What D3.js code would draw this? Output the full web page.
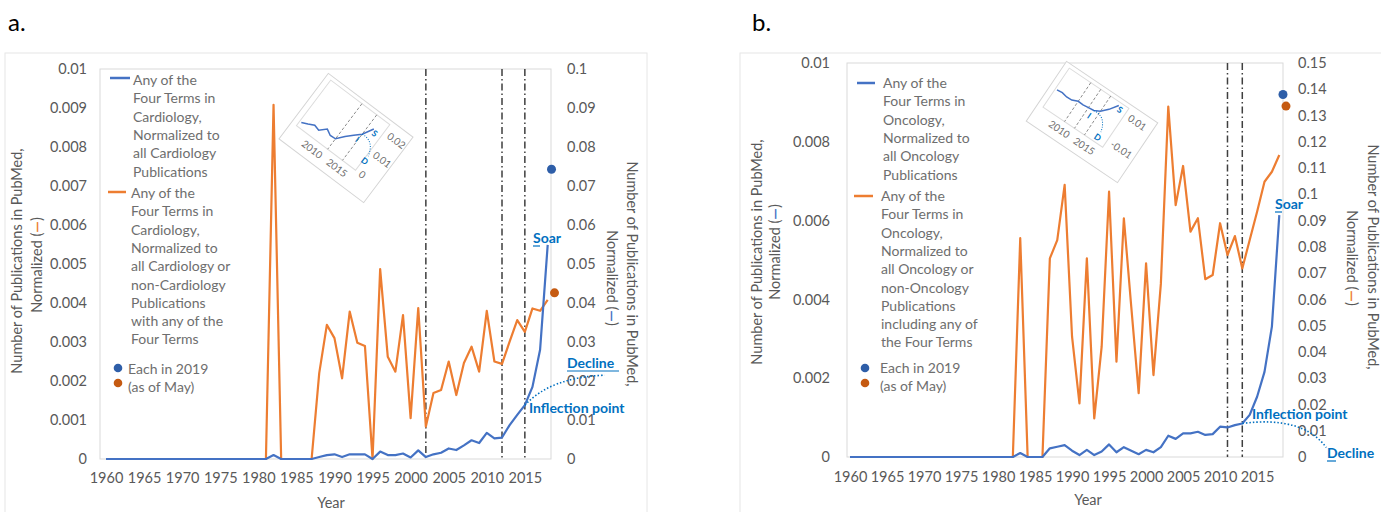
<!DOCTYPE html>
<html>
<head>
<meta charset="utf-8">
<script src="https://cdn.jsdelivr.net/npm/d3@7"></script>
<style>
  body { margin: 0; background: #fff; }
  svg { font-family: Lato, "Open Sans", sans-serif; }
</style>
</head>
<body>
<svg id="chart" width="1381" height="512"></svg>
<script>
// categories
const years = d3.range(1960, 2019);
const xTicks = [1960, 1965, 1970, 1975, 1980, 1985, 1990, 1995, 2000, 2005, 2010, 2015];

// a. cardiology
const cardioBlue = [0,0,0,0,0,0,0,0,0,0, 0,0,0,0,0,0,0,0,0,0, 0,0,
  0.001, 0,0,0,0,0,
  0.0005, 0.001, 0.0012, 0.0005, 0.0012, 0.0012, 0.0012, 0, 0.0019, 0.001,
  0.001, 0.0014, 0.0004, 0.0022, 0.0005, 0.0012, 0.0016, 0.0027, 0.0023, 0.0035,
  0.0048, 0.0041, 0.0067, 0.0053, 0.0055, 0.0087, 0.0113, 0.0138, 0.0185, 0.028, 0.0549];
const cardioOrange = [0,0,0,0,0,0,0,0,0,0, 0,0,0,0,0,0,0,0,0,0, 0,0,
  0.00908, 0,0,0,0,0,
  0.0022, 0.00344, 0.0031, 0.00207, 0.00378, 0.00298, 0.0029, 0, 0.00487, 0.00262,
  0.00224, 0.00369, 0.00105, 0.00387, 0.00083, 0.00169, 0.00177, 0.0025, 0.00164, 0.00246,
  0.00288, 0.00224, 0.0038, 0.0025, 0.00244, 0.00301, 0.00356, 0.00326, 0.00386, 0.0038, 0.00408];
const cardioDots = { blue: 0.0743, orange: 0.00426 };
const cardioMarks = [2002, 2012, 2015];
const cardioLeftTicks = [0, 0.001, 0.002, 0.003, 0.004, 0.005, 0.006, 0.007, 0.008, 0.009, 0.01];
const cardioRightTicks = [0, 0.01, 0.02, 0.03, 0.04, 0.05, 0.06, 0.07, 0.08, 0.09, 0.1];

// b. oncology
const oncoBlue = [0,0,0,0,0,0,0,0,0,0, 0,0,0,0,0,0,0,0,0,0, 0,0,0,
  0.0001, 0,0,0,
  0.00022, 0.00026, 0.0003, 0.00016, 0.00005, 0.00018, 0.00005, 0.00014, 0.00032, 0.00012,
  0.00025, 0.00016, 0.00007, 0.00018, 0.00012, 0.00025, 0.00054, 0.00046, 0.0006, 0.0006,
  0.00064, 0.00056, 0.00058, 0.00077, 0.00075, 0.00081, 0.00085, 0.00107, 0.00153, 0.00216,
  0.00331, 0.00614];
const oncoOrange = [0,0,0,0,0,0,0,0,0,0, 0,0,0,0,0,0,0,0,0,0, 0,0,0,
  0.0833, 0,0,0,
  0.0756, 0.0826, 0.1036, 0.0458, 0.0204, 0.0756, 0.0147, 0.042, 0.101, 0.0363,
  0.0909, 0.0572, 0.0243, 0.0737, 0.0312, 0.066, 0.1334, 0.0959, 0.1108, 0.0858,
  0.0909, 0.0677, 0.0693, 0.089, 0.0769, 0.0841, 0.0718, 0.0826, 0.0934, 0.1048,
  0.1086, 0.115];
const oncoDots = { blue: 0.0092, orange: 0.1336 };
const oncoMarks = [2011, 2013];
const oncoLeftTicks = [0, 0.002, 0.004, 0.006, 0.008, 0.01];
const oncoRightTicks = [0, 0.01, 0.02, 0.03, 0.04, 0.05, 0.06, 0.07, 0.08, 0.09, 0.1, 0.11, 0.12, 0.13, 0.14, 0.15];

const DOT_YEAR = 2018.5;

const BLUE = "#4472c4", ORANGE = "#ed7d31", NOTE = "#0070c0";
const TICK = "#595959", LEG = "#6e6e6e";

const svg = d3.select("#chart");
const fmt = d => d === 0 ? "0" : String(+d.toFixed(3));

function drawPanel(p) {
  const g = svg.append("g");

  g.append("rect").attr("x", p.frame[0]).attr("y", p.frame[1])
    .attr("width", p.frame[2]).attr("height", p.frame[3])
    .attr("fill", "none").attr("stroke", "#e6e6e6");
  g.append("text").attr("x", p.tag[0]).attr("y", p.tag[1])
    .attr("font-size", 24).attr("fill", "#000").text(p.tagText);

  const x = d3.scaleLinear().domain([1960, 2018]).range(p.xRange);
  const yL = d3.scaleLinear().domain([0, p.leftTicks[p.leftTicks.length - 1]]).range([p.bottom, p.top]);
  const yR = d3.scaleLinear().domain([0, p.rightTicks[p.rightTicks.length - 1]]).range([p.bottom, p.top]);

  g.append("rect").attr("x", p.plot[0]).attr("y", p.top)
    .attr("width", p.plot[1] - p.plot[0]).attr("height", p.bottom - p.top)
    .attr("fill", "none").attr("stroke", "#d9d9d9");

  // axes
  const ax = (sel) => { sel.select(".domain").remove();
    sel.selectAll("text").attr("font-size", 14.5).attr("fill", TICK).attr("font-family", "Lato"); };
  g.append("g").attr("transform", `translate(${p.leftLabelX},0)`)
    .call(d3.axisLeft(yL).tickValues(p.leftTicks).tickSize(0).tickPadding(0).tickFormat(fmt)).call(ax);
  g.append("g").attr("transform", `translate(${p.rightLabelX},0)`)
    .call(d3.axisRight(yR).tickValues(p.rightTicks).tickSize(0).tickPadding(0).tickFormat(fmt)).call(ax);
  g.append("g").attr("transform", `translate(0,${p.xLabelY})`)
    .call(d3.axisBottom(x).tickValues(xTicks).tickSize(0).tickPadding(0).tickFormat(d3.format("d"))).call(ax);

  // axis titles
  p.titles.forEach(tt => {
    const t = g.append("text").attr("transform", `translate(${tt.x},${tt.y}) rotate(${tt.rot})`)
      .attr("text-anchor", "middle").attr("font-size", 14.5).attr("fill", TICK);
    if (tt.dash) {
      t.append("tspan").text("Normalized (");
      t.append("tspan").attr("fill", tt.dash).attr("font-weight", "bold").text("—");
      t.append("tspan").text(")");
    } else t.text(tt.text);
  });
  g.append("text").attr("x", p.yearPos[0]).attr("y", p.yearPos[1]).attr("text-anchor", "middle")
    .attr("font-size", 14.5).attr("fill", TICK).text("Year");

  // marker lines
  g.selectAll(".mark").data(p.marks).join("line")
    .attr("x1", d => x(d)).attr("x2", d => x(d)).attr("y1", p.top).attr("y2", p.bottom)
    .attr("stroke", "#3f3f3f").attr("stroke-width", 1.5).attr("stroke-dasharray", "7,3,1.5,3");

  // series
  const orangeScale = p.orangeAxis === "left" ? yL : yR;
  const blueScale = p.blueAxis === "left" ? yL : yR;
  const line = (sc) => d3.line().x((d, i) => x(years[i])).y(d => sc(d));
  g.append("path").datum(p.orange).attr("d", line(orangeScale))
    .attr("fill", "none").attr("stroke", ORANGE).attr("stroke-width", 2.2).attr("stroke-linejoin", "round");
  g.append("path").datum(p.blue).attr("d", line(blueScale))
    .attr("fill", "none").attr("stroke", BLUE).attr("stroke-width", 2.2).attr("stroke-linejoin", "round");

  g.append("circle").attr("cx", x(DOT_YEAR)).attr("cy", blueScale(p.dots.blue)).attr("r", 4.5).attr("fill", "#2e5ea8");
  g.append("circle").attr("cx", x(DOT_YEAR) + 3).attr("cy", orangeScale(p.dots.orange)).attr("r", 4.5).attr("fill", "#c55a11");

  // annotations
  const infl = [x(p.inflYear), blueScale(p.blue[years.indexOf(p.inflYear)])];
  g.append("path")
    .attr("d", `M${infl[0]},${infl[1]} Q${infl[0] + p.curve[0]},${infl[1] + p.curve[1]} ${infl[0] + p.curve[2]},${infl[1] + p.curve[3]}`)
    .attr("fill", "none").attr("stroke", NOTE).attr("stroke-width", 1.6).attr("stroke-dasharray", "1.5,2");
  p.notes.forEach(n => {
    g.append("text").attr("x", n.x).attr("y", n.y).attr("font-size", 14).attr("font-weight", "bold")
      .attr("fill", NOTE).text(n.text);
    if (n.ul) g.append("line").attr("x1", n.x).attr("x2", n.x + n.ul).attr("y1", n.y + 3).attr("y2", n.y + 3)
      .attr("stroke", NOTE).attr("stroke-width", 1.2);
  });

  // legend
  const lg = g.append("g").attr("font-size", 14).attr("fill", LEG);
  p.legend.forEach(item => {
    if (item.line) lg.append("line").attr("x1", item.line[0]).attr("x2", item.line[1])
      .attr("y1", item.line[2]).attr("y2", item.line[2]).attr("stroke", item.color).attr("stroke-width", 2.5);
    item.rows.forEach((r, i) => lg.append("text").attr("x", item.x).attr("y", item.y + i * 18.3).text(r));
  });
  p.legendDots.forEach(d => lg.append("circle").attr("cx", d[0]).attr("cy", d[1]).attr("r", 4.3).attr("fill", d[2]));

  // rotated inset
  drawInset(p.inset, p.blue);
}

function drawInset(s, blue) {
  const g = svg.append("g").attr("transform", `translate(${s.cx},${s.cy}) rotate(${s.angle})`);
  const w = s.w, h = s.h;
  g.append("rect").attr("x", -w / 2).attr("y", -h / 2).attr("width", w).attr("height", h)
    .attr("fill", "#fff").attr("stroke", "#d4d4d4");
  const px0 = -w / 2 + 6, px1 = w / 2 - s.rightPad, py0 = -h / 2 + 4, py1 = h / 2 - 21;
  g.append("rect").attr("x", px0).attr("y", py0).attr("width", px1 - px0).attr("height", py1 - py0)
    .attr("fill", "none").attr("stroke", "#dcdcdc");
  const xi = d3.scaleLinear().domain(s.years).range([px0 + 2, px1 - 4]);
  const yi = d3.scaleLinear().domain(s.valDomain).range([py1, py0]);
  const sub = years.map((yr, i) => [yr, blue[i]]).filter(d => d[0] >= s.years[0] && d[0] <= s.lastYear);
  g.selectAll(".im").data(s.marks).join("line")
    .attr("x1", d => xi(d)).attr("x2", d => xi(d)).attr("y1", py0).attr("y2", py1)
    .attr("stroke", "#8c8c8c").attr("stroke-width", 0.9).attr("stroke-dasharray", "3,2");
  g.append("path").datum(sub).attr("d", d3.line().x(d => xi(d[0])).y(d => yi(d[1])))
    .attr("fill", "none").attr("stroke", BLUE).attr("stroke-width", 1.5);
  const ip = sub.find(d => d[0] === s.inflYear);
  g.append("path")
    .attr("d", `M${xi(ip[0])},${yi(ip[1])} Q${xi(ip[0]) + 14},${yi(ip[1]) - 2} ${xi(ip[0]) + 18},${yi(ip[1]) + 14}`)
    .attr("fill", "none").attr("stroke", NOTE).attr("stroke-width", 1).attr("stroke-dasharray", "1,1.5");
  const last = sub[sub.length - 1];
  const lt = g.append("g").attr("font-size", 8.5).attr("font-weight", "bold").attr("fill", NOTE);
  lt.append("text").attr("x", xi(last[0]) + 1).attr("y", yi(last[1]) + 6).text("S");
  lt.append("text").attr("x", xi(ip[0]) - 2).attr("y", yi(ip[1]) + 10).text("I");
  lt.append("text").attr("x", xi(ip[0]) + 15).attr("y", yi(ip[1]) + 23).text("D");
  const tg = g.append("g").attr("font-size", 10).attr("fill", "#6e6e6e");
  s.xLabels.forEach(v => tg.append("text").attr("x", xi(v)).attr("y", py1 + 13).attr("text-anchor", "middle").text(v));
  const yt = d3.scaleLinear().domain(s.tickDomain).range([py1, py0]);
  s.yLabels.forEach(v => tg.append("text").attr("x", px1 + 5).attr("y", yt(v) + 3).text(v));
}

drawPanel({
  frame: [5, 53, 642, 480], tag: [8, 31], tagText: "a.",
  xRange: [106, 547.7], top: 69, bottom: 459, plot: [100, 551],
  leftTicks: cardioLeftTicks, rightTicks: cardioRightTicks,
  leftLabelX: 87, rightLabelX: 567, xLabelY: 473,
  orange: cardioOrange, blue: cardioBlue, orangeAxis: "left", blueAxis: "right",
  dots: cardioDots, marks: cardioMarks,
  titles: [
    { x: 22, y: 261, rot: -90, text: "Number of Publications in PubMed," },
    { x: 42, y: 265, rot: -90, dash: ORANGE },
    { x: 627, y: 274, rot: 90, text: "Number of Publications in PubMed," },
    { x: 607, y: 278, rot: 90, dash: BLUE }
  ],
  yearPos: [331, 508],
  inflYear: 2015, curve: [26, -28, 80, -30],
  notes: [
    { text: "Soar", x: 533, y: 243, ul: 7 },
    { text: "Decline", x: 567, y: 368, ul: 52 },
    { text: "Inflection point", x: 529, y: 413 }
  ],
  legend: [
    { color: BLUE, line: [110, 130, 78], x: 133, y: 85,
      rows: ["Any of the", "Four Terms in", "Cardiology,", "Normalized to", "all Cardiology", "Publications"] },
    { color: ORANGE, line: [108, 126, 192], x: 131, y: 198,
      rows: ["Any of the", "Four Terms in", "Cardiology,", "Normalized to", "all Cardiology or",
             "non-Cardiology", "Publications", "with any of the", "Four Terms"] },
    { x: 128, y: 374, rows: ["Each in 2019", "(as of May)"] }
  ],
  legendDots: [[118, 368, "#2e5ea8"], [118, 383, "#c55a11"]],
  inset: { cx: 346, cy: 138, angle: 37, w: 106, h: 82, rightPad: 26,
    years: [2006, 2017], lastYear: 2016, valDomain: [0, 0.024], inflYear: 2015,
    marks: [2012, 2015], xLabels: [2010, 2015], tickDomain: [0, 0.024], yLabels: [0, 0.01, 0.02] }
});

drawPanel({
  frame: [740, 53, 660, 480], tag: [752, 31], tagText: "b.",
  xRange: [850, 1279.3], top: 63, bottom: 457, plot: [847, 1283],
  leftTicks: oncoLeftTicks, rightTicks: oncoRightTicks,
  leftLabelX: 830, rightLabelX: 1298, xLabelY: 472,
  orange: oncoOrange, blue: oncoBlue, orangeAxis: "right", blueAxis: "left",
  dots: oncoDots, marks: oncoMarks,
  titles: [
    { x: 762, y: 252, rot: -90, text: "Number of Publications in PubMed," },
    { x: 780, y: 252, rot: -90, dash: BLUE },
    { x: 1368, y: 257, rot: 90, text: "Number of Publications in PubMed," },
    { x: 1347, y: 258, rot: 90, dash: ORANGE }
  ],
  yearPos: [1088, 505],
  inflYear: 2013, curve: [60, -8, 84, 24],
  notes: [
    { text: "Soar", x: 1275, y: 209, ul: 7 },
    { text: "Inflection point", x: 1252, y: 419 },
    { text: "Decline", x: 1327, y: 458, ul: 9 }
  ],
  legend: [
    { color: BLUE, line: [857, 875, 83], x: 883, y: 88,
      rows: ["Any of the", "Four Terms in", "Oncology,", "Normalized to", "all Oncology", "Publications"] },
    { color: ORANGE, line: [854, 873, 196], x: 881, y: 201,
      rows: ["Any of the", "Four Terms in", "Oncology,", "Normalized to", "all Oncology or",
             "non-Oncology", "Publications", "including any of", "the Four Terms"] },
    { x: 880, y: 373, rows: ["Each in 2019", "(as of May)"] }
  ],
  legendDots: [[865, 368, "#2e5ea8"], [865, 383, "#c55a11"]],
  inset: { cx: 1092, cy: 122, angle: 34, w: 110, h: 72, rightPad: 32,
    years: [2006, 2017], lastYear: 2016, valDomain: [-0.001, 0.0024], inflYear: 2013,
    marks: [2010, 2012, 2014], xLabels: [2010, 2015], tickDomain: [-0.015, 0.015], yLabels: [0.01, -0.01] }
});
</script>
</body>
</html>
